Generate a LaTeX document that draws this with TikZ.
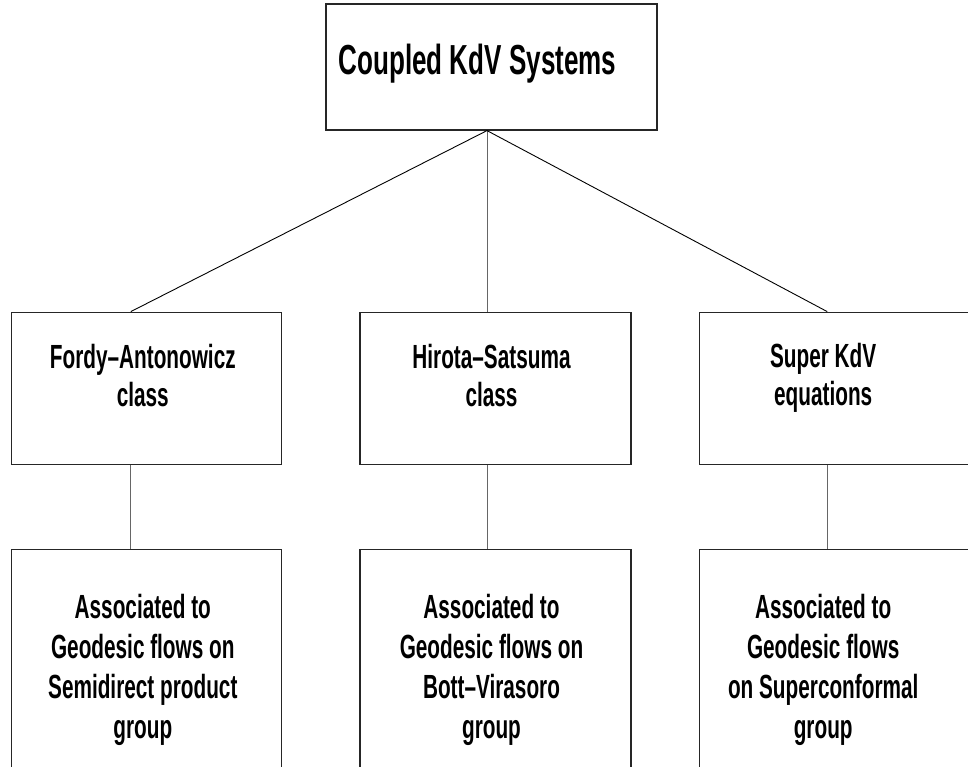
\documentclass[tikz,border=0pt]{standalone}
\usepackage{fontspec}
\setmainfont{Liberation Sans}[FakeStretch=0.62]
\usetikzlibrary{positioning}
\tikzset{
    box/.style={draw=black!85, line width=1.2pt, rectangle, inner sep=0pt},
    head/.style={box, minimum width=331pt, minimum height=126pt},
    classbox/.style={box, minimum width=270pt, minimum height=152pt},
    groupbox/.style={box, minimum width=270pt, minimum height=236pt},
    txt/.style={align=center, inner sep=0pt, font=\bfseries\fontsize{33.5}{38}\selectfont},
    gtxt/.style={txt, font=\bfseries\fontsize{33.5}{40}\selectfont},
    link/.style={line width=0.9pt, black},
    stem/.style={line width=0.9pt, black!60},
}
\begin{document}
\begin{tikzpicture}[x=1pt, y=1pt]
    \useasboundingbox (0,0) rectangle (968,-767);
    \clip (0,0) rectangle (968,-767);

    \node [head] (kdv) at (491.5,-67) {};
    \node [classbox, minimum width=271pt, below=181pt of kdv, xshift=4pt] (hs) {};
    \node [classbox, left=77pt of hs] (fa) {};
    \node [classbox, minimum width=280pt, right=67pt of hs] (sk) {};
    \node [groupbox, below=84pt of fa] (fag) {};
    \node [groupbox, minimum width=271pt, below=84pt of hs] (hsg) {};
    \node [groupbox, minimum width=280pt, below=84pt of sk] (skg) {};

    \node [txt, font=\bfseries\fontsize{42}{44}\selectfont] (kdvtext) at ([xshift=-14pt, yshift=3pt]kdv.center) {Coupled KdV Systems};
    \node [txt] (fatext) at ([xshift=-4pt, yshift=13pt]fa.center) {Fordy--Antonowicz\\class};
    \node [txt] (hstext) at ([xshift=-4pt, yshift=13pt]hs.center) {Hirota--Satsuma\\class};
    \node [txt] (sktext) at ([xshift=-16pt, yshift=10pt]sk.center) {Super KdV\\equations};
    \node [gtxt] (fagtext) at ([xshift=-4pt, yshift=-3pt]fag.center) {Associated to\\Geodesic flows on\\Semidirect product\\group};
    \node [gtxt] (hsgtext) at ([xshift=-4pt, yshift=-3pt]hsg.center) {Associated to\\Geodesic flows on\\Bott--Virasoro\\group};
    \node [gtxt] (skgtext) at ([xshift=-16pt, yshift=-3pt]skg.center) {Associated to\\Geodesic flows\\on Superconformal\\group};

    \coordinate (hub) at ([xshift=-4.5pt]kdv.south);
    \draw [link] (hub) -- ([xshift=-16pt]fa.north);
    \draw [stem] (hub) -- (hub |- hs.north);
    \draw [link] (hub) -- ([xshift=-12pt]sk.north);
    \draw [stem] ([xshift=-16pt]fa.south) -- ([xshift=-16pt]fag.north);
    \draw [stem] (hub |- hs.south) -- (hub |- hsg.north);
    \draw [stem] ([xshift=-12pt]sk.south) -- ([xshift=-12pt]skg.north);
\end{tikzpicture}
\end{document}
